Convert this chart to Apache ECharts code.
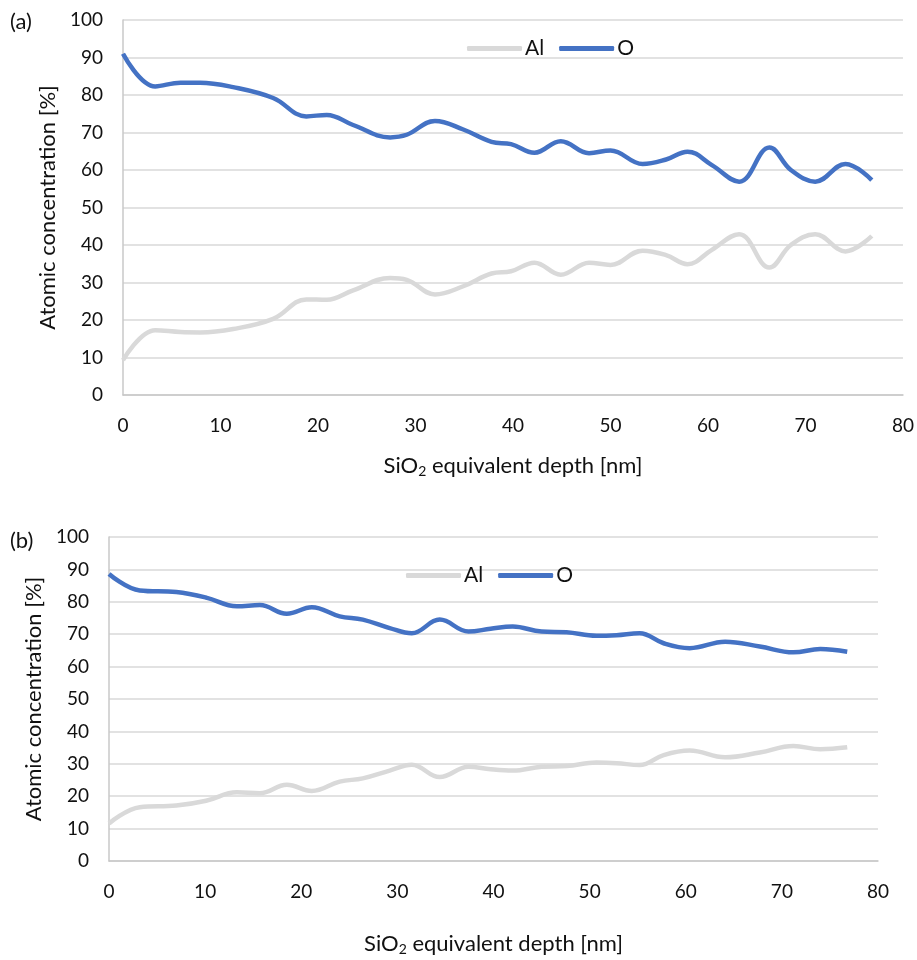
<!DOCTYPE html>
<html>
<head>
<meta charset="utf-8">
<script src="https://cdn.jsdelivr.net/npm/echarts@6/dist/echarts.min.js"></script>
<style>
  html, body { margin: 0; padding: 0; background: #fff; }
  #chart { width: 917px; height: 960px; }
</style>
</head>
<body>
<div id="chart"></div>
<script>
// (a) depth profile
var depth_a = [0, 3.3, 5.9, 7.9, 11.3, 15.4, 18.8, 20.9, 23.6, 27.4, 29.1, 32.0, 34.9, 37.8, 39.8, 42.2, 44.9, 47.8, 50.0, 53.3, 55.7, 57.9, 60.4, 63.2, 66.3, 68.5, 71.0, 74.1, 76.8];
var al_a = [9.3, 17.3, 16.8, 16.7, 17.6, 20.3, 25.5, 25.4, 27.9, 31.2, 30.7, 26.8, 29.0, 32.4, 33.0, 35.3, 32.1, 35.3, 34.7, 38.5, 37.3, 34.9, 38.7, 42.9, 34.0, 40.0, 42.9, 38.3, 42.4];
var o_a = [91.0, 82.3, 83.3, 83.3, 82.1, 79.2, 74.3, 74.7, 72.0, 68.7, 69.4, 73.1, 70.8, 67.5, 66.9, 64.6, 67.7, 64.5, 65.2, 61.6, 62.8, 64.9, 61.3, 56.9, 66.0, 60.0, 56.9, 61.6, 57.3];

// (b) depth profile
var depth_b = [0, 3.2, 7.0, 10.1, 13.3, 15.7, 18.5, 21.1, 24.0, 26.4, 29.2, 31.5, 34.4, 37.4, 39.7, 42.0, 45.0, 47.6, 50.7, 52.8, 55.2, 57.7, 60.4, 64.1, 67.7, 71.2, 74.0, 76.8];
var al_b = [11.6, 16.6, 17.1, 18.6, 21.2, 20.9, 23.5, 21.6, 24.5, 25.5, 27.9, 29.7, 25.9, 29.1, 28.3, 27.9, 29.1, 29.3, 30.4, 30.2, 29.6, 32.7, 34.1, 32.0, 33.5, 35.5, 34.5, 35.1];
var o_b = [88.6, 83.5, 83.0, 81.3, 78.6, 79.0, 76.3, 78.3, 75.5, 74.5, 71.9, 70.3, 74.5, 70.8, 71.7, 72.4, 70.8, 70.6, 69.5, 69.7, 70.3, 67.2, 65.7, 67.7, 66.2, 64.4, 65.4, 64.6];

var x_ticks = [0, 10, 20, 30, 40, 50, 60, 70, 80];
var y_ticks = [0, 10, 20, 30, 40, 50, 60, 70, 80, 90, 100];

var font = 'Lato';
var al_color = '#d9d9d9';
var o_color = '#4472c4';

function pairs(xs, ys) {
    var out = [];
    for (var i = 0; i < xs.length; i++) out.push([xs[i], ys[i]]);
    return out;
}

function xAxis(idx, gap) {
    return {
        type: 'value', gridIndex: idx,
        min: x_ticks[0], max: x_ticks[x_ticks.length - 1], interval: 10,
        name: 'SiO{sub|2} equivalent depth [nm]',
        nameLocation: 'middle', nameGap: gap,
        nameTextStyle: {
            fontFamily: font, fontSize: 22, color: '#111',
            rich: { sub: { fontFamily: font, fontSize: 14, color: '#111', padding: [11, 0, 0, 0] } }
        },
        axisLine: { lineStyle: { color: '#c8c8c8', width: 1.5 } },
        axisTick: { show: false },
        splitLine: { show: false },
        axisLabel: { fontFamily: font, fontSize: 19, color: '#111', margin: 21 }
    };
}

function yAxis(idx, gap) {
    return {
        type: 'value', gridIndex: idx,
        min: y_ticks[0], max: y_ticks[y_ticks.length - 1], interval: 10,
        name: 'Atomic concentration [%]',
        nameLocation: 'middle', nameGap: gap,
        nameTextStyle: { fontFamily: font, fontSize: 22, color: '#111' },
        axisLine: { show: true, lineStyle: { color: '#c8c8c8', width: 1.5 } },
        axisTick: { show: false },
        splitLine: { lineStyle: { color: '#d9d9d9', width: 1.5 } },
        axisLabel: { fontFamily: font, fontSize: 19, color: '#111', margin: 20 }
    };
}

function series(name, idx, data, color) {
    return {
        name: name, type: 'line',
        xAxisIndex: idx, yAxisIndex: idx,
        data: data,
        smooth: 0.4,
        symbol: 'none',
        lineStyle: { color: color, width: 4.5 },
        itemStyle: { color: color }
    };
}

var legend_style = {
    icon: 'roundRect',
    itemWidth: 55, itemHeight: 5, itemGap: 15,
    textStyle: { fontFamily: font, fontSize: 21, color: '#111', padding: [0, 0, 0, -2] },
    data: ['Al', 'O']
};

var chartDom = document.getElementById('chart');
var myChart = echarts.init(chartDom);
var option;

option = {
    animation: false,
    backgroundColor: '#fff',
    grid: [
        { left: 123, right: 13, top: 20, bottom: 565 },
        { left: 109, right: 39, top: 537, bottom: 99 }
    ],
    legend: [
        Object.assign({ left: 462, top: 33 }, legend_style),
        Object.assign({ left: 401, top: 560 }, legend_style)
    ],
    xAxis: [xAxis(0, 58), xAxis(1, 70)],
    yAxis: [yAxis(0, 64), yAxis(1, 59)],
    graphic: [
        { type: 'text', left: 10, top: 11, style: { text: '(a)', font: '22px ' + font, fill: '#111' } },
        { type: 'text', left: 10, top: 530, style: { text: '(b)', font: '22px ' + font, fill: '#111' } }
    ],
    series: [
        series('Al', 0, pairs(depth_a, al_a), al_color),
        series('O', 0, pairs(depth_a, o_a), o_color),
        series('Al', 1, pairs(depth_b, al_b), al_color),
        series('O', 1, pairs(depth_b, o_b), o_color)
    ]
};

option && myChart.setOption(option);
</script>
</body>
</html>
